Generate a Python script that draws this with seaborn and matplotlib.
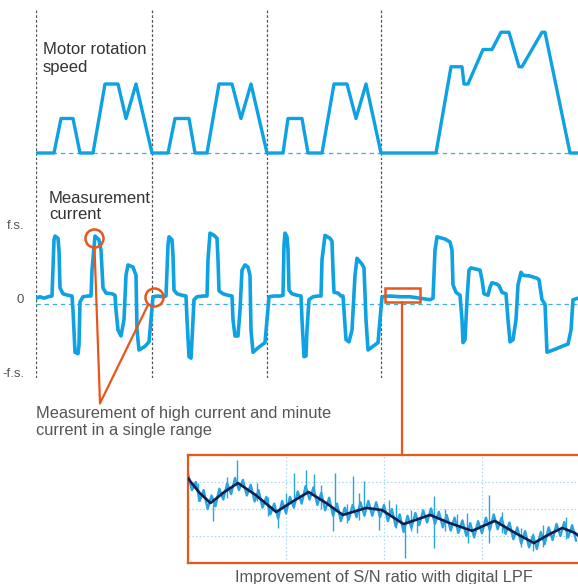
import numpy as np
import pandas as pd
import matplotlib
matplotlib.use("Agg")
import matplotlib.pyplot as plt
from matplotlib.patches import Rectangle
import seaborn as sns

# ---------------- data ----------------
# time axis in ms
cycle_bounds = [0, 116, 231, 345]

speed_t = [0, 18, 25, 37, 44, 57, 69, 82, 90, 100,
           116, 132, 139, 153, 159, 171, 183, 196, 205, 215,
           231, 247, 252, 266, 272, 286, 298, 311, 320, 330,
           345, 400, 415, 426, 428, 432, 447, 456, 465, 473, 483, 486, 506, 509, 534, 542]
speed_rpm = [0, 0, 1000, 1000, 0, 0, 2000, 2000, 1000, 2000,
             0, 0, 1000, 1000, 0, 0, 2000, 2000, 1000, 2000,
             0, 0, 1000, 1000, 0, 0, 2000, 2000, 1000, 2000,
             0, 0, 2500, 2500, 2000, 2000, 3000, 3000, 3500, 3500, 2500, 2500, 3500, 3500, 0, 0]

# measurement current, fraction of full scale
cur_t = [0, 4, 8, 12, 16, 18, 19, 22, 23, 24, 27, 32, 36, 37, 39, 42, 43, 44, 47, 52, 55, 56, 59, 63, 65, 67,
         70, 76, 79, 80, 82, 85, 88, 90, 92, 97, 100, 101, 103, 109, 113, 115,
         117, 122, 127, 130, 132, 133, 136, 137, 138, 141, 146, 150, 151, 153, 155, 156, 158, 161, 167, 171,
         172, 174, 178, 181, 182, 183, 187, 192, 196, 197, 199, 202, 204, 206, 209, 212, 214, 215, 217, 222,
         229, 231,
         233, 238, 244, 247, 248, 249, 251, 252, 253, 256, 261, 265, 266, 268, 270, 271, 273, 277, 282, 285,
         286, 289, 294, 296, 297, 298, 302, 305, 307, 308, 310, 313, 316, 319, 321, 326, 328, 330, 332, 337,
         342, 344,
         346, 354, 364, 374, 384, 394, 397, 399, 401, 409, 414, 416, 417, 420, 424, 426, 427, 429, 431, 433,
         435, 444, 446, 448, 452, 454, 456, 461, 463, 466, 470, 472, 474, 477, 480, 482, 485, 487, 494, 501,
         503, 506, 509, 511, 519, 526, 532, 535, 537, 542]
cur_fs = [0.01, 0.03, 0.01, 0.03, 0.04, 0.80, 0.85, 0.82, 0.66, 0.15, 0.07, 0.05, 0.04, -0.15, -0.72, -0.74,
          -0.62, -0.04, 0.03, 0.04, 0.04, 0.39, 0.85, 0.80, 0.66, 0.15,
          0.08, 0.07, 0.05, -0.15, -0.42, -0.50, -0.28, 0.32, 0.46, 0.43, 0.32, -0.42, -0.69, -0.64, -0.58, -0.28,
          0.03, 0.04, 0.03, 0.04, 0.73, 0.84, 0.80, 0.59, 0.12, 0.07, 0.05, 0.04, -0.28, -0.78, -0.80, -0.55,
          -0.01, 0.03, 0.04, 0.04,
          0.53, 0.89, 0.86, 0.82, 0.53, 0.11, 0.07, 0.05, 0.04, -0.28, -0.50, -0.50, -0.15, 0.39, 0.46, 0.43,
          0.32, -0.42, -0.72, -0.66, -0.59, -0.28,
          0.03, 0.04, 0.04, 0.05, 0.73, 0.89, 0.84, 0.66, 0.12, 0.07, 0.05, 0.04, -0.28, -0.78, -0.77, -0.42,
          -0.01, 0.03, 0.04, 0.04,
          0.53, 0.86, 0.82, 0.78, 0.39, 0.09, 0.08, 0.04, 0.04, -0.15, -0.55, -0.58, -0.42, 0.32, 0.55, 0.47,
          0.42, -0.28, -0.69, -0.64, -0.59, -0.28,
          0.03, 0.04, 0.03, 0.03, 0.01, -0.01, 0.01, 0.66, 0.84, 0.81, 0.77, 0.66, 0.19, 0.09, 0.05, -0.28,
          -0.59, -0.55, -0.01, 0.39,
          0.42, 0.39, 0.26, 0.07, 0.05, 0.16, 0.22, 0.20, 0.18, 0.09, 0.07, -0.28, -0.58, -0.55, -0.28, 0.19,
          0.36, 0.32, 0.31, 0.28,
          0.26, -0.01, -0.07, -0.72, -0.68, -0.64, -0.61, -0.42, -0.01, 0.01]

# zoomed view (digital LPF), arbitrary units
zoom_t = list(np.arange(100) * 0.04)
zoom_raw = [3.30, 2.70, 3.00, 2.30, 2.70, 2.00, 2.50, 2.10, 2.75, 2.35,
            2.95, 2.55, 3.15, 2.70, 3.08, 2.50, 2.90, 2.28, 2.70, 2.05,
            2.45, 1.80, 2.20, 1.65, 2.30, 1.85, 2.45, 2.05, 2.65, 2.20,
            2.85, 2.35, 2.80, 2.15, 2.60, 1.95, 2.42, 1.75, 2.20, 1.55,
            2.05, 1.60, 2.15, 1.70, 2.25, 1.75, 2.30, 1.75, 2.25, 1.70,
            2.15, 1.55, 2.00, 1.35, 1.80, 1.15, 1.75, 1.30, 1.85, 1.40,
            1.95, 1.50, 2.02, 1.45, 1.90, 1.32, 1.78, 1.20, 1.68, 1.12,
            1.58, 1.00, 1.48, 0.95, 1.55, 1.10, 1.68, 1.22, 1.80, 1.25,
            1.68, 1.08, 1.50, 0.88, 1.32, 0.72, 1.18, 0.58, 1.02, 0.52,
            1.15, 0.70, 1.32, 0.85, 1.45, 1.00, 1.52, 0.95, 1.40, 0.82]
spike_t = [0.50, 1.08, 1.20, 1.29, 1.50, 1.68, 1.80, 2.05, 2.51, 3.07, 2.85,
           0.26, 0.92, 1.48, 1.95, 2.21, 2.51, 2.86, 3.07, 2.34, 0.40, 0.10,
           0.70, 0.82, 1.00, 1.36, 1.62, 1.74, 2.12, 2.28, 2.62, 2.74, 3.20, 3.40, 3.52, 3.62, 3.86]
spike_lo = [2.90, 2.30, 2.55, 2.55, 2.00, 1.90, 2.00, 1.82, 1.75, 1.45, 1.25,
            1.56, 1.30, 1.19, 1.22, 0.19, 0.56, 0.74, 0.74, 1.11, 2.40, 2.30,
            2.30, 1.75, 1.80, 2.00, 1.50, 1.60, 1.30, 1.20, 1.20, 1.10, 1.10, 0.60, 0.45, 0.60, 0.90]
spike_hi = [3.81, 3.33, 3.44, 3.30, 3.33, 3.22, 3.04, 2.33, 2.48, 2.52, 1.85,
            2.20, 1.95, 2.00, 1.95, 1.45, 1.75, 1.30, 1.45, 1.60, 3.20, 2.95,
            2.95, 2.45, 2.60, 2.90, 2.20, 2.60, 2.20, 1.95, 2.00, 1.80, 1.90, 1.30, 1.10, 1.40, 1.70]
lpf_t = [0.00, 0.02, 0.12, 0.23, 0.37, 0.51, 0.69, 0.90, 1.06, 1.23, 1.41, 1.58, 1.82, 1.98,
         2.20, 2.47, 2.67, 2.90, 3.13, 3.34, 3.53, 3.69, 3.82, 3.95, 4.00]
lpf_v = [3.15, 3.04, 2.59, 2.22, 2.63, 2.96, 2.52, 1.89, 2.26, 2.63, 2.22, 1.78, 2.04, 1.96,
         1.44, 1.78, 1.48, 1.19, 1.56, 1.11, 0.74, 1.07, 1.30, 1.11, 0.96]

speed_label = "Motor rotation\nspeed"
current_label = "Measurement\ncurrent"
fs_ticks = [1, 0, -1]
fs_labels = ["f.s.", "0", "-f.s."]
note_range = "Measurement of high current and minute\ncurrent in a single range"
note_lpf = "Improvement of S/N ratio with digital LPF"

# ---------------- style ----------------
sns.set_theme(style="white")
plt.rcParams["font.family"] = ["Liberation Sans", "DejaVu Sans"]

BLUE = "#0ea2e2"
LBLUE = "#3aaee2"
ORANGE = "#e8561c"
GREY = "#555555"
NAVY = "#0d1f4f"

W, H = 578, 584
fig = plt.figure(figsize=(W / 100, H / 100), dpi=100)


def rect(x0, y0, x1, y1):
    return [x0 / W, 1 - y1 / H, (x1 - x0) / W, (y1 - y0) / H]


# ---- speed panel ----
ax_s = fig.add_axes(rect(36, 10, 578, 160))
ax_s.set_xlim(0, 542)
ax_s.set_ylim(-203, 4145)
ax_s.axis("off")
for b in cycle_bounds:
    ax_s.axvline(b, color=GREY, lw=0.9, ls=(0, (2.2, 1.6)), zorder=1)
ax_s.axhline(0, color=LBLUE, lw=0.9, ls=(0, (3.5, 3)), zorder=1)
sns.lineplot(x=speed_t, y=speed_rpm, ax=ax_s, color=BLUE, lw=2.4,
             estimator=None, sort=False, zorder=3)
ax_s.text(0.013, 0.785, speed_label, transform=ax_s.transAxes, ha="left", va="top",
          fontsize=12, color="#333333", linespacing=1.2)

# ---- current panel ----
ax_c = fig.add_axes(rect(36, 160, 578, 378))
ax_c.set_xlim(0, 542)
ax_c.set_ylim(-1.068, 1.878)
for sp in ax_c.spines.values():
    sp.set_visible(False)
ax_c.set_xticks([])
ax_c.set_yticks(fs_ticks)
ax_c.set_yticklabels(fs_labels)
ax_c.tick_params(axis="y", length=0, pad=8.5, labelsize=9.5, labelcolor=GREY)
for b in cycle_bounds:
    ax_c.axvline(b, color=GREY, lw=0.9, ls=(0, (2.2, 1.6)), zorder=1)
ax_c.axhline(-0.07, color=LBLUE, lw=0.9, ls=(0, (3.5, 3)), zorder=1)
sns.lineplot(x=cur_t, y=cur_fs, ax=ax_c, color=BLUE, lw=2.6,
             estimator=None, sort=False, zorder=3)
ax_c.text(0.024, 0.86, current_label, transform=ax_c.transAxes, ha="left", va="top",
          fontsize=12, color="#333333", linespacing=1.15)

# annotations
ax_c.plot([58], [0.82], "o", ms=13, mfc="none", mec=ORANGE, mew=1.8, zorder=5)
ax_c.plot([118], [0.03], "o", ms=13, mfc="none", mec=ORANGE, mew=1.8, zorder=5)
ax_c.plot([58.5, 64], [0.70, -1.41], color=ORANGE, lw=1.6, clip_on=False, zorder=5)
ax_c.plot([112, 64], [-0.08, -1.41], color=ORANGE, lw=1.6, clip_on=False, zorder=5)
ax_c.text(0, -1.45, note_range, ha="left", va="top", fontsize=11.8, color=GREY,
          linespacing=1.15, clip_on=False)
ax_c.add_patch(Rectangle((349, -0.04), 35, 0.19, fill=False, ec=ORANGE, lw=1.8,
                         clip_on=False, zorder=5))
ax_c.plot([366, 366], [-0.04, -2.11], color=ORANGE, lw=1.6, clip_on=False, zorder=5)

# ---- zoomed inset ----
ax_i = fig.add_axes(rect(188, 455, 580, 563))
ax_i.set_xlim(0, 4)
ax_i.set_ylim(0, 4)
ax_i.set_xticks([1, 2, 3])
ax_i.set_yticks([1, 2, 3])
ax_i.set_xticklabels([])
ax_i.set_yticklabels([])
ax_i.tick_params(length=0)
ax_i.grid(True, color="#a9d9f2", lw=0.9, ls=(0, (1.2, 1.8)))
for sp in ax_i.spines.values():
    sp.set_visible(True)
    sp.set_color(ORANGE)
    sp.set_linewidth(1.6)
ax_i.vlines(spike_t, spike_lo, spike_hi, color="#29a4df", lw=1.0, zorder=2)
sns.lineplot(x=zoom_t, y=zoom_raw, ax=ax_i, color="#29a4df", lw=1.7,
             estimator=None, sort=False, zorder=2)
sns.lineplot(x=lpf_t, y=lpf_v, ax=ax_i, color=NAVY, lw=1.9,
             estimator=None, sort=False, zorder=3)
ax_i.set_xlabel("")
ax_i.set_ylabel("")
ax_i.text(0.5, -0.13, note_lpf, transform=ax_i.transAxes, ha="center", va="center",
          fontsize=11.8, color=GREY)

fig.savefig("out.png", dpi=100)
